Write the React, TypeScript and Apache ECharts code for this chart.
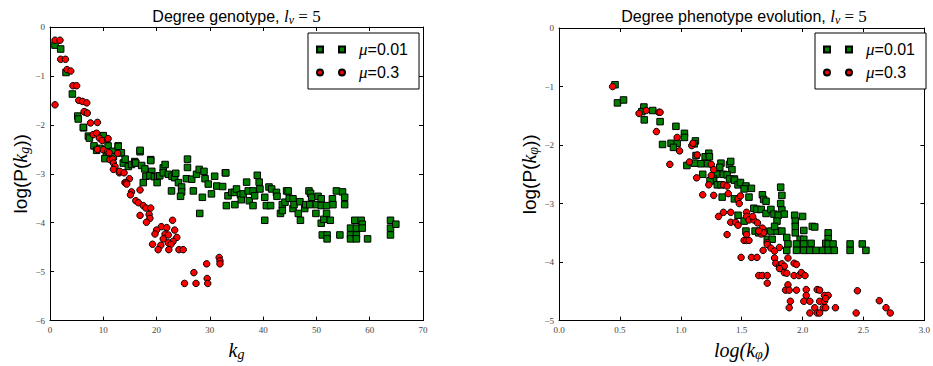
import React, { useEffect, useRef } from 'react';
import * as echarts from 'echarts';

// ---------- data ----------
const legendNames = ['μ=0.01', 'μ=0.3'];

const leftTitle = 'Degree genotype, ';
const rightTitle = 'Degree phenotype evolution, ';

const leftXTicks = { min: 0, max: 70, interval: 10 };
const leftYTicks = { min: -6, max: 0, interval: 1 };
const rightXTicks = { min: 0, max: 3, interval: 0.5 };
const rightYTicks = { min: -5, max: 0, interval: 1 };

// genotype, mu = 0.01 (green squares)
const genoLow: number[][] = [
  [0.94,-0.37],[2.0,-0.45],[3.0,-0.93],[4.2,-1.37],[5.2,-1.82],[5.3,-1.88],[6.3,-2.06],[6.25,-2.05],[7.2,-2.23],[7.4,-2.27],
  [8.25,-2.43],[8.75,-2.52],[9.4,-2.48],[9.8,-2.23],[10.0,-2.22],[10.6,-2.62],[10.9,-2.43],[10.3,-2.69],[11.75,-2.54],[11.9,-2.65],
  [12.8,-2.43],[12.8,-2.44],[13.1,-2.57],[13.4,-2.57],[13.75,-2.78],[14.1,-2.7],[14.7,-2.85],[15.3,-2.81],[15.9,-2.75],[15.9,-2.78],
  [16.1,-2.78],[16.9,-2.55],[16.9,-2.52],[17.2,-2.83],[17.8,-2.9],[17.5,-3.18],[18.0,-3.05],[18.9,-2.71],[18.9,-2.73],[19.1,-2.95],
  [18.75,-3.04],[19.6,-3.06],[20.1,-3.18],[20.2,-3.05],[20.6,-3.04],[21.25,-2.88],[21.6,-2.81],[21.25,-2.98],[22.2,-3.01],[22.8,-3.35],
  [22.9,-3.05],[23.4,-3.08],[23.6,-2.99],[24.1,-3.18],[24.7,-3.27],[24.7,-3.37],[24.5,-3.46],[25.8,-2.7],[25.8,-2.87],[25.6,-3.1],
  [26.6,-3.11],[26.9,-3.35],[27.5,-3.01],[28.0,-2.91],[28.1,-3.81],[28.6,-3.48],[28.9,-2.95],[29.1,-3.1],[29.7,-3.21],[30.3,-3.41],
  [30.9,-3.05],[31.3,-3.25],[32.4,-3.26],[32.9,-2.98],[33.0,-2.98],[33.1,-3.65],[33.4,-3.45],[34.1,-3.38],[34.6,-3.38],[34.7,-3.63],
  [35.0,-3.31],[35.75,-3.43],[35.9,-3.53],[36.25,-3.41],[36.9,-3.17],[37.2,-3.35],[37.4,-3.55],[38.1,-3.35],[38.1,-3.65],[38.4,-3.45],
  [38.9,-3.03],[39.25,-3.17],[39.4,-3.31],[40.3,-3.48],[40.3,-3.95],[40.6,-3.65],[41.1,-3.27],[41.4,-3.65],[41.6,-3.31],[42.5,-3.38],
  [42.6,-3.46],[43.25,-3.81],[43.6,-3.63],[43.6,-3.75],[44.1,-3.58],[44.4,-3.35],[44.7,-3.35],[44.9,-3.5],[45.6,-3.51],[45.6,-3.71],
  [45.8,-3.63],[46.6,-3.81],[46.9,-3.57],[47.0,-3.95],[47.8,-3.71],[48.0,-3.63],[48.6,-3.35],[48.9,-3.4],[49.1,-3.48],[48.75,-3.63],
  [49.9,-3.81],[50.0,-3.63],[50.3,-3.46],[50.9,-3.51],[50.9,-3.65],[50.9,-4.01],[51.1,-4.25],[51.4,-3.93],[51.9,-3.65],[51.9,-3.81],
  [52.0,-4.25],[52.0,-4.33],[52.6,-3.95],[53.0,-3.51],[53.1,-3.63],[53.75,-3.35],[54.4,-4.25],[54.9,-3.37],[55.3,-3.48],[55.3,-3.63],
  [56.4,-4.11],[56.4,-4.25],[56.4,-4.33],[57.2,-3.95],[57.5,-4.11],[57.5,-4.25],[57.5,-4.33],[58.4,-3.95],[58.6,-4.03],[58.6,-4.11],
  [59.6,-4.33],[63.9,-3.95],[63.9,-4.11],[63.9,-4.25],[64.9,-4.03]
];

// genotype, mu = 0.3 (red circles)
const genoHigh: number[][] = [
  [0.94,-0.27],[1.875,-0.27],[2.0,-0.66],[2.9,-0.66],[3.2,-0.87],[3.9,-0.9],[4.3,-1.2],[5.0,-1.2],[0.94,-1.59],[5.4,-1.5],
  [6.1,-1.52],[6.9,-1.55],[6.6,-1.74],[6.4,-1.73],[7.0,-1.76],[7.6,-1.96],[8.9,-1.95],[8.1,-2.2],[8.75,-2.17],[9.25,-2.27],
  [9.8,-2.32],[10.8,-2.3],[10.9,-2.28],[8.9,-2.5],[10.0,-2.51],[10.8,-2.55],[11.1,-2.57],[11.25,-2.71],[11.75,-2.7],[12.7,-2.58],
  [11.9,-2.78],[12.2,-2.85],[11.9,-2.91],[13.0,-2.98],[13.1,-2.95],[13.9,-2.98],[14.9,-3.1],[14.06,-3.18],[14.3,-3.18],[14.4,-3.21],
  [16.9,-3.33],[15.3,-3.37],[15.1,-3.43],[16.1,-3.55],[16.6,-3.59],[17.5,-3.65],[18.0,-3.7],[18.9,-3.7],[18.6,-3.83],[16.9,-3.85],
  [18.75,-3.91],[18.1,-3.99],[23.0,-3.95],[20.9,-4.08],[21.9,-4.1],[20.0,-4.15],[23.4,-4.15],[19.7,-4.23],[21.6,-4.23],[22.2,-4.25],
  [23.8,-4.3],[21.25,-4.33],[23.1,-4.38],[22.2,-4.41],[22.7,-4.44],[19.25,-4.44],[20.8,-4.46],[20.3,-4.55],[22.3,-4.55],[24.2,-4.55],
  [25.0,-4.55],[31.75,-4.71],[31.9,-4.78],[31.9,-4.84],[29.4,-4.84],[27.0,-5.02],[29.5,-5.14],[25.25,-5.24],[27.4,-5.24],[29.6,-5.24]
];

// phenotype, mu = 0.01 (green squares)
const phenoLow: number[][] = [
  [0.46,-0.97],[0.48,-1.28],[0.53,-1.23],[0.697,-1.35],[0.68,-1.43],[0.7,-1.57],[0.77,-1.41],[0.83,-1.6],[0.96,-1.68],[1.03,-1.8],
  [1.03,-1.87],[1.12,-1.93],[1.11,-1.98],[0.85,-1.99],[0.92,-1.97],[0.97,-1.97],[0.94,-2.04],[1.125,-2.18],[1.2,-2.2],[1.23,-2.14],
  [1.235,-2.2],[1.11,-2.31],[1.165,-2.32],[1.05,-2.35],[1.22,-2.32],[1.33,-2.31],[1.32,-2.38],[1.4,-2.33],[1.41,-2.28],[1.42,-2.42],
  [1.29,-2.5],[1.35,-2.5],[1.38,-2.51],[1.18,-2.5],[1.27,-2.58],[1.4,-2.58],[1.44,-2.58],[1.265,-2.61],[1.24,-2.61],[1.44,-2.6],
  [1.3,-2.68],[1.33,-2.68],[1.47,-2.68],[1.49,-2.64],[1.535,-2.7],[1.52,-2.75],[1.58,-2.74],[1.56,-2.89],[1.67,-2.85],[1.68,-2.93],
  [1.34,-2.89],[1.44,-2.92],[1.7,-2.96],[1.82,-2.72],[1.83,-2.86],[1.82,-3.0],[1.83,-3.11],[1.6,-3.08],[1.625,-3.1],[1.66,-3.1],
  [1.7,-3.17],[1.74,-3.1],[1.765,-3.18],[1.8,-3.2],[1.85,-3.18],[1.79,-3.3],[1.47,-3.2],[1.52,-3.3],[1.535,-3.47],[1.61,-3.47],
  [1.64,-3.5],[1.68,-3.47],[1.74,-3.47],[1.79,-3.47],[1.83,-3.47],[1.77,-3.39],[1.71,-3.61],[1.75,-3.61],[1.87,-3.58],[1.935,-3.2],
  [2.0,-3.22],[1.94,-3.3],[1.94,-3.39],[1.94,-3.5],[2.01,-3.46],[1.98,-3.61],[2.01,-3.61],[2.08,-3.39],[2.1,-3.4],[1.88,-3.69],
  [1.87,-3.8],[1.95,-3.69],[1.95,-3.8],[2.01,-3.69],[2.01,-3.8],[2.07,-3.68],[2.06,-3.8],[2.11,-3.8],[2.21,-3.5],[2.21,-3.6],
  [2.19,-3.68],[2.21,-3.69],[2.25,-3.69],[2.165,-3.8],[2.21,-3.8],[2.26,-3.8],[2.39,-3.69],[2.39,-3.8],[2.49,-3.69],[2.52,-3.8]
];

// phenotype, mu = 0.3 (red circles)
const phenoHigh: number[][] = [
  [0.44,-1.0],[0.657,-1.46],[0.716,-1.41],[0.82,-1.44],[0.83,-1.44],[0.8,-1.77],[0.97,-1.87],[0.99,-2.1],[1.09,-2.01],[1.1,-1.97],
  [1.135,-2.17],[0.91,-2.33],[1.07,-2.29],[1.25,-2.33],[1.27,-2.42],[1.25,-2.52],[1.13,-2.56],[1.23,-2.68],[1.18,-2.85],[1.27,-2.86],
  [1.35,-2.68],[1.38,-2.7],[1.39,-2.83],[1.47,-2.92],[1.49,-2.87],[1.48,-3.0],[1.35,-3.15],[1.41,-3.15],[1.31,-3.22],[1.41,-3.32],
  [1.45,-3.32],[1.47,-3.37],[1.54,-3.15],[1.54,-3.22],[1.56,-3.28],[1.6,-3.28],[1.59,-3.22],[1.63,-3.33],[1.67,-3.42],[1.66,-3.52],
  [1.68,-3.5],[1.54,-3.53],[1.38,-3.53],[1.52,-3.63],[1.54,-3.63],[1.56,-3.63],[1.71,-3.67],[1.495,-3.92],[1.58,-3.92],[1.625,-3.92],
  [1.64,-3.47],[1.676,-3.8],[1.71,-3.7],[1.74,-3.76],[1.77,-3.81],[1.81,-3.75],[1.77,-3.93],[1.78,-4.02],[1.81,-4.07],[1.83,-4.03],
  [1.85,-4.07],[1.81,-4.11],[1.88,-3.93],[1.93,-4.02],[1.95,-4.04],[1.85,-4.18],[1.87,-4.19],[1.93,-4.23],[1.97,-4.23],[1.99,-4.18],
  [2.02,-4.23],[1.64,-4.23],[1.67,-4.23],[1.71,-4.23],[1.71,-4.36],[1.88,-4.39],[1.86,-4.48],[1.89,-4.48],[1.95,-4.48],[2.03,-4.47],
  [2.12,-4.47],[2.14,-4.48],[2.03,-4.57],[2.18,-4.57],[2.21,-4.57],[1.9,-4.67],[2.01,-4.67],[2.06,-4.67],[2.14,-4.67],[2.18,-4.67],
  [2.19,-4.62],[1.89,-4.78],[2.1,-4.78],[2.17,-4.78],[2.19,-4.78],[2.27,-4.78],[2.06,-4.87],[2.12,-4.87],[2.14,-4.87],[2.45,-4.49],
  [2.44,-4.87],[2.63,-4.66],[2.685,-4.78],[2.72,-4.87]
];

// ---------- styling ----------
const GREEN = '#007f00';
const RED = '#ff0000';
const SANS = 'Liberation Sans, Arial, sans-serif';
const SERIF = 'Liberation Serif, Times New Roman, serif';

const mathRich = (size: number) => ({
  a: { fontFamily: SANS, fontSize: size, color: '#000' },
  i: { fontFamily: SERIF, fontStyle: 'italic', fontSize: size + 1, color: '#000' },
  r: { fontFamily: SERIF, fontSize: size + 1, color: '#000' },
  s: { fontFamily: SERIF, fontStyle: 'italic', fontSize: Math.round(size * 0.72), color: '#000', padding: [Math.round(size * 0.45), 0, 0, 0] },
});

const minus = (v: number) => (v < 0 ? '\u2212' + Math.abs(v) : String(v));

const tickLabel = (fmt: (v: number) => string) => ({
  show: true,
  fontFamily: SERIF,
  fontSize: 9,
  color: '#444',
  margin: 5,
  formatter: fmt,
});

const lineStyle = { color: '#000', width: 1 };

function xAxisPair(grid: number, t: { min: number; max: number; interval: number }, fmt: (v: number) => string, name: string, rich: any) {
  return [
    {
      type: 'value', gridIndex: grid, position: 'bottom', ...t,
      axisLine: { show: true, onZero: false, lineStyle },
      axisTick: { show: true, inside: true, length: 4, lineStyle },
      axisLabel: tickLabel(fmt),
      splitLine: { show: false },
      name, nameLocation: 'middle', nameGap: 11,
      nameTextStyle: { fontSize: 19, fontFamily: SERIF, color: '#000', rich },
    },
    {
      type: 'value', gridIndex: grid, position: 'top', ...t,
      axisLine: { show: true, onZero: false, lineStyle },
      axisTick: { show: true, inside: true, length: 4, lineStyle },
      axisLabel: { show: false },
      splitLine: { show: false },
    },
  ];
}

function yAxisPair(grid: number, t: { min: number; max: number; interval: number }, name: string, rich: any) {
  return [
    {
      type: 'value', gridIndex: grid, position: 'left', ...t,
      axisLine: { show: true, onZero: false, lineStyle },
      axisTick: { show: true, inside: true, length: 4, lineStyle },
      axisLabel: tickLabel(minus),
      splitLine: { show: false },
      name, nameLocation: 'middle', nameGap: 14,
      nameTextStyle: { fontSize: 19, fontFamily: SANS, color: '#000', rich },
    },
    {
      type: 'value', gridIndex: grid, position: 'right', ...t,
      axisLine: { show: true, onZero: false, lineStyle },
      axisTick: { show: true, inside: true, length: 4, lineStyle },
      axisLabel: { show: false },
      splitLine: { show: false },
    },
  ];
}

const SQUARE_ICON = 'path://M0,0h6v6h-6z M22,0h6v6h-6z';
const CIRCLE_ICON = 'path://M0,3a3,3 0 1,0 6,0a3,3 0 1,0 -6,0z M22,3a3,3 0 1,0 6,0a3,3 0 1,0 -6,0z';

function legendAt(left: number) {
  return {
    show: true,
    orient: 'vertical',
    left, top: 33,
    selectedMode: false,
    backgroundColor: '#fff',
    borderColor: '#000',
    borderWidth: 1,
    borderRadius: 0,
    padding: [8, 11, 8, 8],
    itemGap: 6,
    itemWidth: 28,
    itemHeight: 6,
    data: [
      { name: legendNames[0], icon: SQUARE_ICON },
      { name: legendNames[1], icon: CIRCLE_ICON },
    ],
    formatter: (n: string) => '{m|' + n.slice(0, 1) + '}{t|' + n.slice(1) + '}',
    textStyle: {
      color: '#000',
      rich: {
        m: { fontFamily: SERIF, fontStyle: 'italic', fontSize: 17, color: '#000', padding: [0, 0, 0, 9], lineHeight: 17 },
        t: { fontFamily: SANS, fontSize: 16, color: '#000', lineHeight: 17 },
      },
    },
  };
}

function scatter(name: string, data: number[][], axis: number, green: boolean) {
  return {
    type: 'scatter',
    name,
    xAxisIndex: axis,
    yAxisIndex: axis,
    data,
    symbol: green ? 'rect' : 'circle',
    symbolSize: green ? 6.5 : 6.5,
    itemStyle: { color: green ? GREEN : RED, borderColor: '#000', borderWidth: 1, opacity: 1 },
    emphasis: { disabled: true },
    clip: true,
  };
}

export default function App() {
  const ref = useRef<HTMLDivElement>(null);
  useEffect(() => {
    if (!ref.current) return;
    const chart = echarts.init(ref.current, null, { renderer: 'svg' });
    const leftX = xAxisPair(0, leftXTicks, (v) => String(v), '{i|k}{s|g}', mathRich(19));
    const rightX = xAxisPair(1, rightXTicks, (v) => v.toFixed(1), '{i|log(k}{s|φ}{i|)}', mathRich(19));
    const leftY = yAxisPair(0, leftYTicks, '{a|log(P(}{i|k}{s|g}{a|))}', mathRich(19));
    const rightY = yAxisPair(1, rightYTicks, '{a|log(P(}{i|k}{s|φ}{a|))}', mathRich(19));
    const titleRich = mathRich(16);
    chart.setOption({
      animation: false,
      backgroundColor: '#fff',
      textStyle: { fontFamily: SANS },
      grid: [
        { left: 50, top: 27, width: 373, height: 301, containLabel: false },
        { left: 559, top: 28, width: 370, height: 300, containLabel: false },
      ],
      xAxis: [...leftX, ...rightX],
      yAxis: [...leftY, ...rightY],
      legend: [legendAt(308), legendAt(815)],
      graphic: [
        {
          type: 'text', x: 236.5, y: 16,
          style: { text: '{a|' + leftTitle + '}{i|l}{s|v}{r| = 5}', align: 'center', verticalAlign: 'middle', rich: titleRich },
        },
        {
          type: 'text', x: 744, y: 16,
          style: { text: '{a|' + rightTitle + '}{i|l}{s|v}{r| = 5}', align: 'center', verticalAlign: 'middle', rich: titleRich },
        },
      ],
      series: [
        scatter(legendNames[0], genoLow, 0, true),
        scatter(legendNames[1], genoHigh, 0, false),
        scatter(legendNames[0], phenoLow, 2, true),
        scatter(legendNames[1], phenoHigh, 2, false),
      ],
    });
    return () => chart.dispose();
  }, []);
  return (
    <div
      ref={ref}
      style={{ position: 'fixed', left: 0, top: 0, width: 933, height: 366, background: '#fff' }}
    />
  );
}
